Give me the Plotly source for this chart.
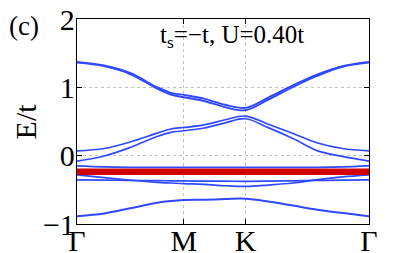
import plotly.graph_objects as go

# path coordinate: Gamma -> M -> K -> Gamma
k = [0, 0.22, 0.43, 0.65, 0.76, 0.866, 1.03, 1.2, 1.366, 1.55, 1.75, 1.95, 2.15, 2.366]
tick_vals = [0, 0.866, 1.366, 2.366]
tick_text = ["Γ", "M", "K", "Γ"]

top_hi = [1.373, 1.32, 1.21, 1.00, 0.92, 0.89, 0.835, 0.745, 0.70, 0.85, 1.03, 1.19, 1.31, 1.373]
top_lo = [1.362, 1.31, 1.195, 0.98, 0.895, 0.855, 0.80, 0.71, 0.665, 0.82, 1.005, 1.17, 1.30, 1.362]
mid_hi = [0.07, 0.105, 0.20, 0.33, 0.39, 0.413, 0.45, 0.525, 0.58, 0.46, 0.325, 0.185, 0.105, 0.07]
mid_lo = [-0.08, -0.005, 0.12, 0.28, 0.34, 0.365, 0.405, 0.48, 0.54, 0.41, 0.25, 0.07, -0.01, -0.08]
flat_a = [-0.15, -0.165, -0.17, -0.17, -0.17, -0.17, -0.17, -0.17, -0.17, -0.17, -0.17, -0.17, -0.165, -0.15]
flat_b = [-0.28, -0.32, -0.36, -0.39, -0.40, -0.41, -0.42, -0.44, -0.45, -0.43, -0.40, -0.35, -0.31, -0.28]
flat_c = [-0.355, -0.358, -0.362, -0.366, -0.368, -0.37, -0.372, -0.374, -0.375, -0.372, -0.368, -0.362, -0.358, -0.355]
bottom = [-0.885, -0.845, -0.77, -0.69, -0.665, -0.65, -0.645, -0.635, -0.63, -0.67, -0.73, -0.79, -0.84, -0.885]
red = [-0.235] * len(k)

y_ticks = [-1, 0, 1, 2]
y_text = ["−1", "0", "1", "2"]

BLUE = "rgb(48,72,255)"
RED = "rgb(210,0,0)"
FONT = "Liberation Serif"

fig = go.Figure()
for ys, w in [(top_hi, 1.9), (top_lo, 1.9), (mid_hi, 1.7), (mid_lo, 1.7),
              (flat_a, 1.7), (flat_b, 1.7), (flat_c, 1.7), (bottom, 2.0)]:
    fig.add_trace(go.Scatter(x=k, y=ys, mode="lines",
                             line=dict(color=BLUE, width=w, shape="spline"),
                             showlegend=False, hoverinfo="skip"))
fig.add_trace(go.Scatter(x=k, y=red, mode="lines",
                         line=dict(color=RED, width=6.5),
                         showlegend=False, hoverinfo="skip"))

axis_common = dict(showline=True, linecolor="black", linewidth=1.3, mirror="allticks",
                   ticks="inside", ticklen=5, tickcolor="black", tickwidth=1,
                   showgrid=True, gridcolor="rgb(195,195,195)", griddash="dot", gridwidth=1,
                   zeroline=False, automargin=False,
                   tickfont=dict(family=FONT, size=30, color="black"))

fig.update_layout(
    width=407, height=253,
    margin=dict(l=77, r=38, t=19, b=29, autoexpand=False),
    paper_bgcolor="white", plot_bgcolor="white",
    font=dict(family=FONT, color="black"),
    xaxis=dict(range=[0, 2.366], tickmode="array", tickvals=tick_vals, ticktext=tick_text,
               ticklabelstandoff=-10, **axis_common),
    yaxis=dict(range=[-1, 2], tickmode="array", tickvals=y_ticks, ticktext=y_text,
               ticklabelstandoff=-5, **axis_common),
    annotations=[
        dict(text="(c)", x=-0.18, y=0.966, xref="paper", yref="paper",
             xanchor="center", yanchor="middle", showarrow=False,
             font=dict(family=FONT, size=27, color="black")),
        dict(text="t<sub>s</sub>=−t, U=0.40t", x=0.531, y=1.0, xref="paper", yref="paper",
             xanchor="center", yanchor="top", showarrow=False,
             font=dict(family=FONT, size=25, color="black")),
        dict(text="E/t", x=-0.175, y=0.5, xref="paper", yref="paper",
             xanchor="center", yanchor="middle", showarrow=False, textangle=-90,
             font=dict(family=FONT, size=30, color="black")),
    ],
)

fig.write_html("out.html", config={"displayModeBar": False},
               post_script="document.body.style.margin='0px';")
